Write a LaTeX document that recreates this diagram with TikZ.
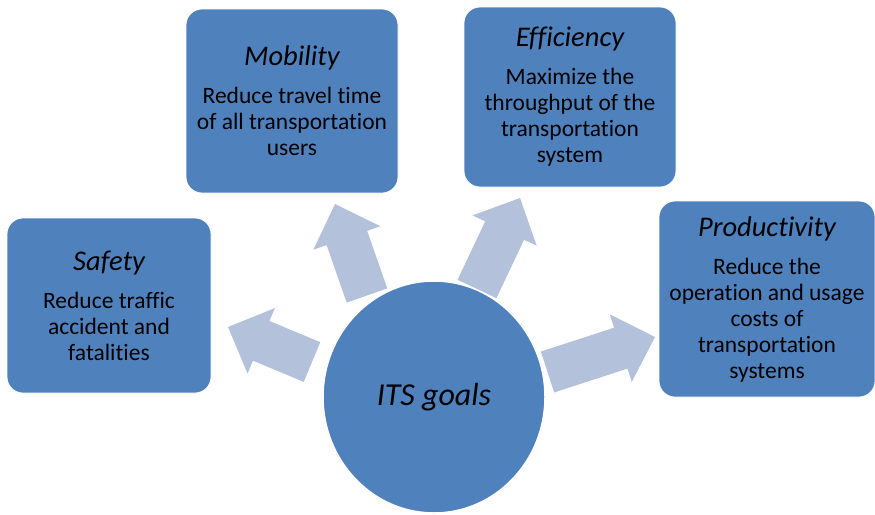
\documentclass[tikz,border=0pt]{standalone}
\usepackage{fontspec}
\setmainfont{Carlito}[Ligatures={NoCommon}]
\usetikzlibrary{calc}
\definecolor{boxblue}{HTML}{4F81BD}
\definecolor{arrowblue}{HTML}{B3C1DA}
\tikzset{
  goalbox/.style={draw=white, line width=0.8pt, fill=boxblue, rounded corners=16pt, align=center, inner sep=0pt,
    font=\fontsize{23.5}{26}\selectfont},
  hub/.style={draw=white, line width=1.5pt, fill=boxblue},
  blockfill/.style={fill=arrowblue}
}
\newcommand\goaltitle[1]{{\fontsize{28.5}{26}\selectfont\itshape #1}\\[12pt]}
\newcommand\goalarrow[2]{%
  \fill[blockfill] ($(#1)!21.5pt!90:(#2)$) -- ($($(#2)!36pt!(#1)$)!21.5pt!-90:(#1)$)
    -- ($($(#2)!36pt!(#1)$)!35.5pt!-90:(#1)$) -- (#2)
    -- ($($(#2)!36pt!(#1)$)!35.5pt!90:(#1)$) -- ($($(#2)!36pt!(#1)$)!21.5pt!90:(#1)$)
    -- ($(#1)!21.5pt!-90:(#2)$) -- cycle;}
\begin{document}
\begin{tikzpicture}[x=1pt,y=-1pt]
\useasboundingbox (0,0) rectangle (875,514);
% arrow anchor coordinates
\coordinate (sB) at (312,362);   \coordinate (sT) at (228,327);
\coordinate (mB) at (367,295.5); \coordinate (mT) at (335,204);
\coordinate (eB) at (477,289);   \coordinate (eT) at (520,198);
\coordinate (pB) at (547.5,372); \coordinate (pT) at (655,337);
\goalarrow{sB}{sT}
\goalarrow{mB}{mT}
\goalarrow{eB}{eT}
\goalarrow{pB}{pT}
% boxes
\node[goalbox, minimum width=204pt, minimum height=175pt] (safety) at (109,305.5)
  {\goaltitle{Safety}Reduce traffic\\accident and\\fatalities};
\node[goalbox, minimum width=212pt, minimum height=184pt] (mobility) at (292,101)
  {\goaltitle{Mobility}Reduce travel time\\of all transportation\\users};
\node[goalbox, minimum width=212pt, minimum height=180pt] (efficiency) at (570,97)
  {\goaltitle{Efficiency}Maximize the\\throughput of the\\transportation\\system};
\node[goalbox, minimum width=216pt, minimum height=196pt] (productivity) at (767,299)
  {\goaltitle{Productivity}Reduce the\\operation and usage\\costs of\\transportation\\systems};
% hub
\filldraw[hub] (434,397) ellipse [x radius=111, y radius=116];
\node[font=\fontsize{32}{34}\selectfont\itshape] (its) at (434,397) {ITS goals};
\end{tikzpicture}
\end{document}
